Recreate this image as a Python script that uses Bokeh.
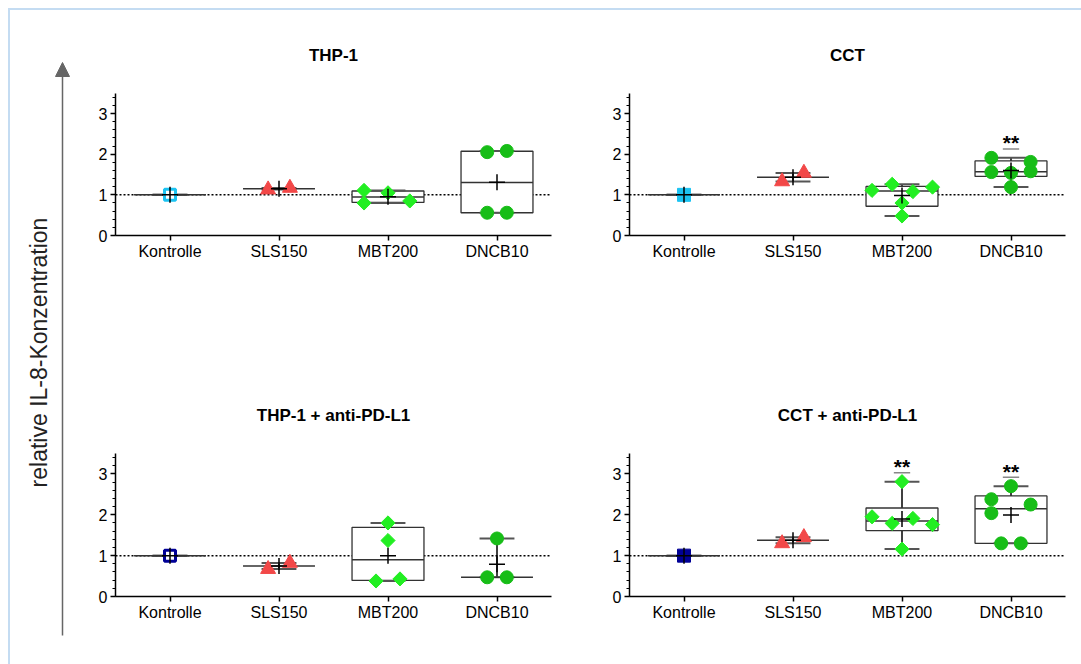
import numpy as np
from bokeh.plotting import figure
from bokeh.models import Range1d, FixedTicker, Span, Label, Arrow, NormalHead, ColumnDataSource
from bokeh.layouts import row, column
from bokeh.embed import file_html
from bokeh.resources import INLINE
from bokeh.core.properties import value

# ---------------- data ----------------
categories = ["Kontrolle", "SLS150", "MBT200", "DNCB10"]
panel_titles = ["THP-1", "CCT", "THP-1 + anti-PD-L1", "CCT + anti-PD-L1"]
y_label = "relative IL-8-Konzentration"
y_ticks = [0, 1, 2, 3]

thp1_kontrolle = [1.00]
thp1_sls150 = [1.13, 1.17]
thp1_mbt200 = [1.11, 1.05, 0.80, 0.85]
thp1_dncb10 = [2.05, 2.08, 0.56, 0.56]

cct_kontrolle = [1.00]
cct_sls150 = [1.33, 1.54]
cct_mbt200 = [1.11, 1.26, 1.08, 1.19, 0.80, 0.48]
cct_dncb10 = [1.91, 1.81, 1.56, 1.58, 1.54, 1.19]

thp1_pdl1_kontrolle = [1.00]
thp1_pdl1_sls150 = [0.67, 0.82]
thp1_pdl1_mbt200 = [1.80, 1.37, 0.38, 0.43]
thp1_pdl1_dncb10 = [1.42, 0.47, 0.47]

cct_pdl1_kontrolle = [1.00]
cct_pdl1_sls150 = [1.30, 1.45]
cct_pdl1_mbt200 = [2.81, 1.95, 1.79, 1.91, 1.76, 1.16]
cct_pdl1_dncb10 = [2.70, 2.38, 2.25, 2.04, 1.30, 1.30]

significant = {"CCT": ["DNCB10"], "CCT + anti-PD-L1": ["MBT200", "DNCB10"]}

panel_data = {
    "THP-1": [thp1_kontrolle, thp1_sls150, thp1_mbt200, thp1_dncb10],
    "CCT": [cct_kontrolle, cct_sls150, cct_mbt200, cct_dncb10],
    "THP-1 + anti-PD-L1": [thp1_pdl1_kontrolle, thp1_pdl1_sls150, thp1_pdl1_mbt200, thp1_pdl1_dncb10],
    "CCT + anti-PD-L1": [cct_pdl1_kontrolle, cct_pdl1_sls150, cct_pdl1_mbt200, cct_pdl1_dncb10],
}

# ---------------- layout / style ----------------
JITTER = {
    "THP-1": [[0], [-0.1, 0.1], [-0.22, 0, -0.22, 0.2], [-0.09, 0.09, -0.09, 0.09]],
    "CCT": [[0], [-0.1, 0.1], [-0.275, -0.09, 0.1, 0.28, 0, 0], [-0.18, 0.18, -0.18, 0.18, 0, 0]],
    "THP-1 + anti-PD-L1": [[0], [-0.1, 0.1], [0, 0, -0.11, 0.11], [0, -0.09, 0.09]],
    "CCT + anti-PD-L1": [[0], [-0.1, 0.1], [0, -0.275, -0.09, 0.1, 0.28, 0], [0, -0.18, 0.18, -0.18, -0.09, 0.09]],
}
CYAN = "#1CC3F2"
NAVY = "#000096"
RED = "#F24848"
LIME = "#22EE22"
GREEN = "#17BD17"
KONTROLLE_STYLE = {
    "THP-1": dict(marker="square", size=11, fill_color="white", line_color=CYAN, line_width=3, angle=0),
    "CCT": dict(marker="square", size=13, fill_color=CYAN, line_color=CYAN, line_width=1, angle=0),
    "THP-1 + anti-PD-L1": dict(marker="square", size=11, fill_color="white", line_color=NAVY, line_width=3, angle=0),
    "CCT + anti-PD-L1": dict(marker="square", size=13, fill_color=NAVY, line_color=NAVY, line_width=1, angle=0),
}
GROUP_STYLE = [
    None,
    dict(marker="triangle", size=15, fill_color=RED, line_color=RED, line_width=1, angle=0),
    dict(marker="square", size=10, fill_color=LIME, line_color=LIME, line_width=1, angle=np.pi / 4),
    dict(marker="circle", size=13, fill_color=GREEN, line_color=GREEN, line_width=1, angle=0),
]
FONT = "Liberation Sans"
BOX_HALF = 0.33
CAP_HALF = 0.16
Y_TOP = 4.6          # headroom above the axis for the panel title
TITLE_Y = 4.44


def make_panel(name, fw, fh, bl, br, bt, bb):
    p = figure(frame_width=fw, frame_height=fh, x_range=Range1d(0, 4), y_range=Range1d(0, Y_TOP),
               output_backend="svg", toolbar_location=None,
               min_border_left=bl, min_border_right=br, min_border_top=bt, min_border_bottom=bb)
    p.xgrid.visible = False
    p.ygrid.visible = False
    p.outline_line_color = None
    p.background_fill_color = "white"
    p.border_fill_color = "white"

    xs = [i + 0.5 for i in range(len(categories))]
    p.xaxis.ticker = FixedTicker(ticks=xs)
    p.xaxis.major_label_overrides = {x: c for x, c in zip(xs, categories)}
    p.yaxis.ticker = FixedTicker(ticks=y_ticks, minor_ticks=[round(0.2 * i, 2) for i in range(18)])
    p.yaxis.bounds = (0, 3.5)
    for ax in (p.xaxis[0], p.yaxis[0]):
        ax.axis_line_width = 1.5
        ax.axis_line_color = "black"
        ax.major_tick_line_color = "black"
        ax.major_tick_line_width = 1.5
        ax.major_tick_in = 0
        ax.major_tick_out = 5
        ax.minor_tick_in = 0
        ax.minor_tick_out = 3
        ax.minor_tick_line_color = "black"
        ax.minor_tick_line_width = 1.2
        ax.major_label_text_font = FONT
        ax.major_label_text_font_size = "16px"
        ax.major_label_text_color = "black"
    p.xaxis.major_label_standoff = 2
    p.yaxis.major_label_standoff = 3

    p.add_layout(Span(location=1, dimension="width", line_color="black", line_width=1.5,
                      line_dash="2 2", level="underlay"))

    groups = panel_data[name]
    stats = dict(x=[], mn=[], mx=[], med=[], mean=[])
    box = dict(left=[], right=[], bottom=[], top=[])
    for i, vals in enumerate(groups):
        v = np.array(vals, dtype=float)
        x = xs[i]
        stats["x"].append(x)
        stats["mn"].append(v.min())
        stats["mx"].append(v.max())
        stats["med"].append(float(np.median(v)))
        stats["mean"].append(float(v.mean()))
        if len(v) >= 4:
            q1, q3 = np.percentile(v, [25, 75], method="weibull")
            box["left"].append(x - BOX_HALF)
            box["right"].append(x + BOX_HALF)
            box["bottom"].append(q1)
            box["top"].append(q3)
    s = ColumnDataSource(stats)
    s.data["xl"] = [x - BOX_HALF for x in stats["x"]]
    s.data["xr"] = [x + BOX_HALF for x in stats["x"]]
    s.data["cl"] = [x - CAP_HALF for x in stats["x"]]
    s.data["cr"] = [x + CAP_HALF for x in stats["x"]]

    p.segment(x0="x", y0="mn", x1="x", y1="mx", source=s, line_color="black", line_width=1.5)
    p.quad(source=ColumnDataSource(box), left="left", right="right", bottom="bottom", top="top",
           fill_color="white", line_color="#333333", line_width=1.3)
    p.segment(x0="cl", y0="mn", x1="cr", y1="mn", source=s, line_color="#555555", line_width=2)
    p.segment(x0="cl", y0="mx", x1="cr", y1="mx", source=s, line_color="#555555", line_width=2)
    p.segment(x0="xl", y0="med", x1="xr", y1="med", source=s, line_color="#333333", line_width=1.5)

    for i, vals in enumerate(groups):
        st = KONTROLLE_STYLE[name] if i == 0 else GROUP_STYLE[i]
        px = [xs[i] + j for j in JITTER[name][i]]
        p.scatter(x=px, y=vals, **st)

    p.scatter(x="x", y="mean", source=s, marker="cross", size=16, line_color="black", line_width=1.5)

    for g in significant.get(name, []):
        i = categories.index(g)
        top = stats["mx"][i]
        x = xs[i]
        p.segment(x0=[x - 0.075], y0=[top + 0.22], x1=[x + 0.075], y1=[top + 0.22],
                  line_color="#888888", line_width=1.5)
        p.text(x=[x], y=[top + 0.37], text=["**"], text_align="center", text_baseline="alphabetic",
               text_font=value(FONT), text_font_style="bold", text_font_size="21px", text_color="black")

    p.add_layout(Label(x=2, y=TITLE_Y, text=name, text_align="center", text_baseline="middle",
                       text_font=FONT, text_font_style="bold", text_font_size="17px", text_color="black"))
    return p


p1 = make_panel("THP-1", 436, 187, 35, 24, 38, 137)
p2 = make_panel("CCT", 436, 187, 54, 16, 38, 137)
p3 = make_panel("THP-1 + anti-PD-L1", 436, 188, 35, 24, 36, 68)
p4 = make_panel("CCT + anti-PD-L1", 436, 188, 54, 16, 36, 68)

lab = figure(width=70, height=654, x_range=Range1d(0, 70), y_range=Range1d(0, 654),
             output_backend="svg", toolbar_location=None, x_axis_type=None, y_axis_type=None,
             min_border_left=0, min_border_right=0, min_border_top=0, min_border_bottom=0)
lab.xgrid.visible = False
lab.ygrid.visible = False
lab.outline_line_color = None
lab.add_layout(Arrow(end=NormalHead(size=14, fill_color="#666666", line_color="#666666"),
                     x_start=52, y_start=29, x_end=52, y_end=602,
                     line_color="#666666", line_width=1.5))
lab.add_layout(Label(x=28, y=312, text=y_label, angle=np.pi / 2, text_align="center",
                     text_baseline="middle", text_font=FONT, text_font_size="23px",
                     text_color="#222222"))

root = row(lab, column(row(p1, p2), row(p3, p4)),
           styles={"margin": "8px 0 0 8px",
                   "border-top": "2px solid #C4DCF2", "border-left": "2px solid #C4DCF2"})

open("out.html", "w").write(file_html(root, INLINE))
